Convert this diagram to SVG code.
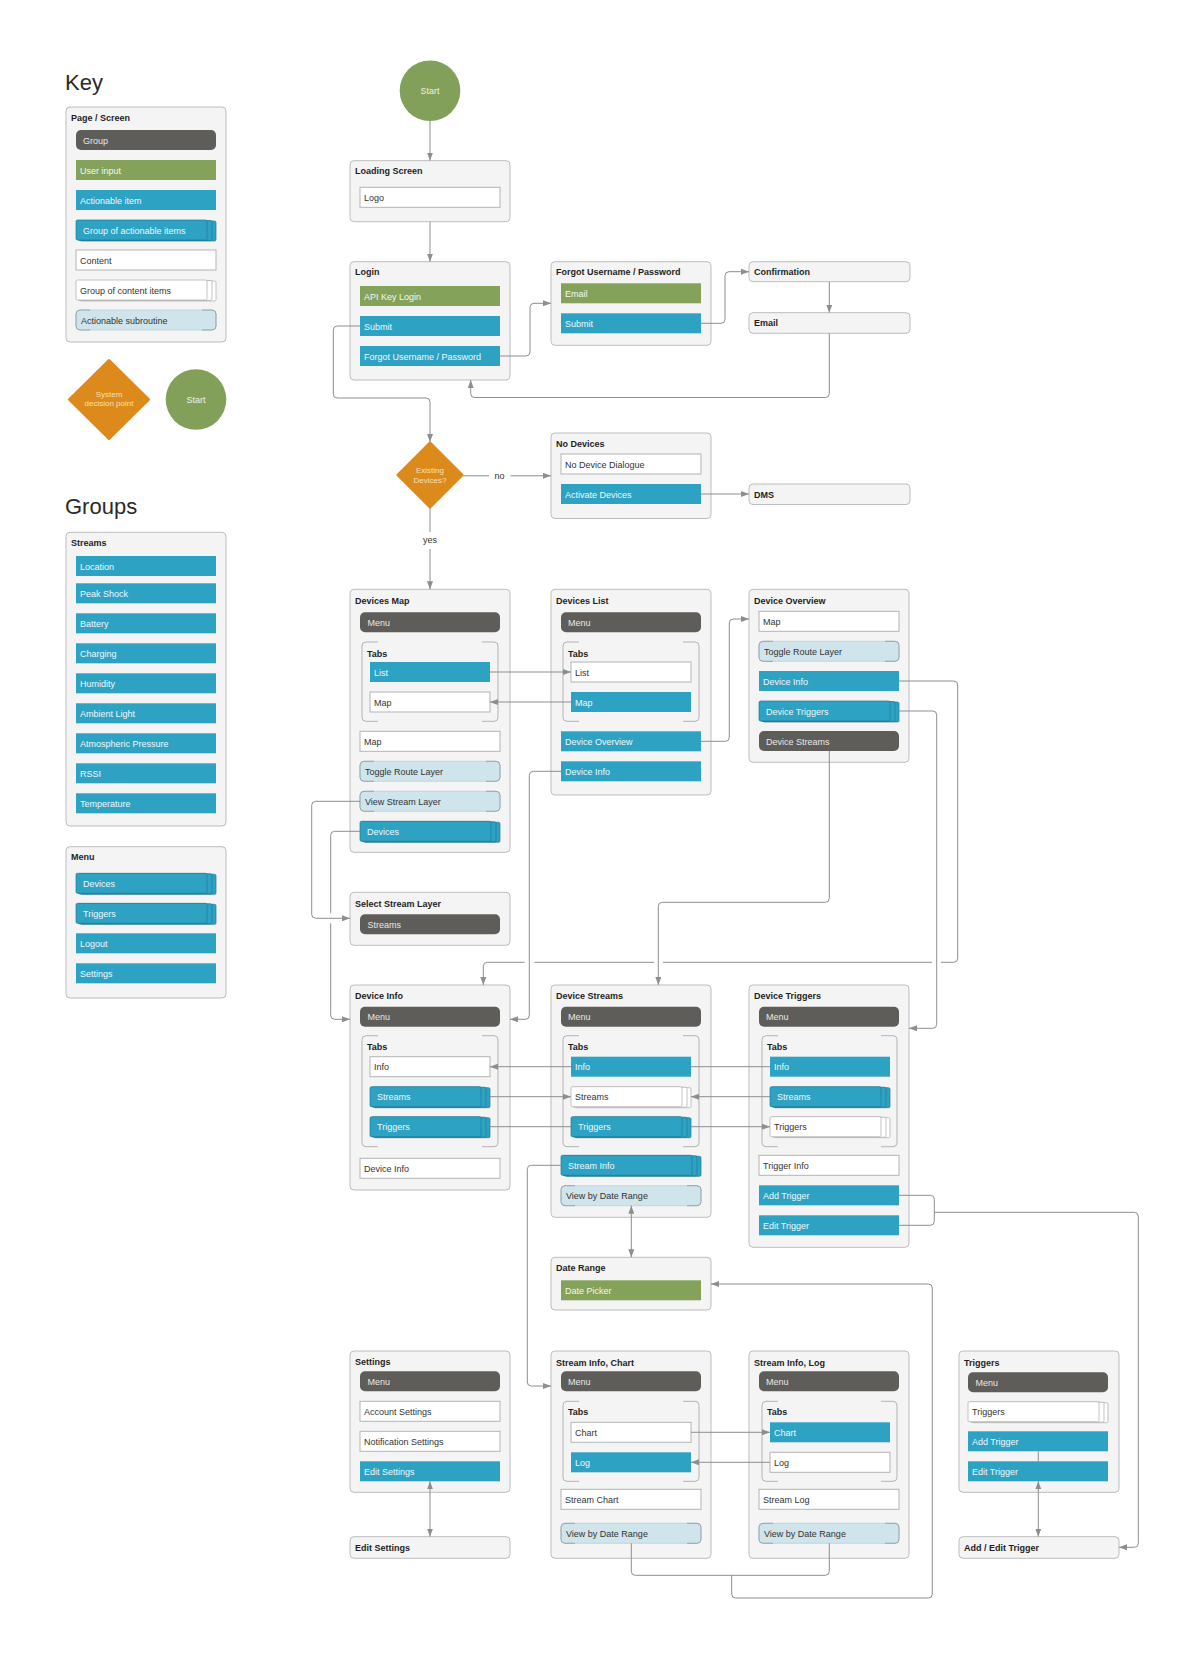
<svg xmlns="http://www.w3.org/2000/svg" xmlns:xlink="http://www.w3.org/1999/xlink" width="1199" height="1659" viewBox="0 0 1199 1659">
<style>
text{font-family:"Liberation Sans",Arial,Helvetica,sans-serif}
.t{font-size:9px;font-weight:bold;fill:#1e1e1e}
.w{font-size:9px;fill:#f0f8fb}
.gt{font-size:9px;fill:#e8e8e6}
.d{font-size:9px;fill:#333}
.h{font-size:22px;fill:#2a2a2a}
.m{text-anchor:middle}
.pg{fill:#f4f4f4;stroke:#bdbdbd;stroke-width:1}
.grp{fill:#5f5d59}
.inp{fill:#85a25a}
.act{fill:#2da2c3}
.cnt{fill:#fff;stroke:#b3b3b3;stroke-width:1}
.sub{fill:#cfe4eb;stroke:#bcd0d7;stroke-width:.8}
.brk{fill:none;stroke:#8fa2a9;stroke-width:.9}
.tabs{fill:none;stroke:#b3b3b3;stroke-width:1}
.ga rect{fill:#2da2c3;stroke:#1f7893;stroke-width:.7}
.gc rect{fill:#fff;stroke:#a9a9a9;stroke-width:.7}
.c{fill:none;stroke:#8e8e8e;stroke-width:1}
.ca{marker-end:url(#ah)}
.cb{marker-start:url(#ahs);marker-end:url(#ah)}
</style>
<defs>
<marker id="ah" markerUnits="userSpaceOnUse" markerWidth="8" markerHeight="6" refX="8" refY="3" orient="auto"><path d="M0,0 L8,3 L0,6 z" fill="#8e8e8e"/></marker>
<marker id="ahs" markerUnits="userSpaceOnUse" markerWidth="8" markerHeight="6" refX="8" refY="3" orient="auto-start-reverse"><path d="M0,0 L8,3 L0,6 z" fill="#8e8e8e"/></marker>
<g id="sub140"><rect class="sub" x="0" y="0" width="140" height="20" rx="4"/><path class="brk" d="M14 0 H4 Q0 0 0 4 V16 Q0 20 4 20 H14 M126 0 H136 Q140 0 140 4 V16 Q140 20 136 20 H126"/></g>
<g id="ga140" class="ga"><rect x="4" y="1" width="136" height="20" rx="1.5"/><rect x="2" y=".5" width="134" height="20" rx="1.5"/><rect x="0" y="0" width="131" height="20" rx="1.5"/></g>
<g id="ga120" class="ga"><rect x="4" y="1" width="116" height="20" rx="1.5"/><rect x="2" y=".5" width="114" height="20" rx="1.5"/><rect x="0" y="0" width="111" height="20" rx="1.5"/></g>
<g id="gc140" class="gc"><rect x="4" y="1" width="136" height="20" rx="1.5"/><rect x="2" y=".5" width="134" height="20" rx="1.5"/><rect x="0" y="0" width="131" height="20" rx="1.5"/></g>
<g id="gc120" class="gc"><rect x="4" y="1" width="116" height="20" rx="1.5"/><rect x="2" y=".5" width="114" height="20" rx="1.5"/><rect x="0" y="0" width="111" height="20" rx="1.5"/></g>
</defs>
<rect x="0" y="0" width="1199" height="1659" fill="#fff"/>

<g id="key">
<text class="h" x="65" y="89.5">Key</text>
<rect class="pg" x="66" y="107" width="160" height="235" rx="4"/>
<text class="t" x="71" y="120.5">Page / Screen</text>
<rect class="grp" x="76" y="130" width="140" height="20" rx="5"/><text class="gt" x="83" y="143.5">Group</text>
<rect class="inp" x="76" y="160" width="140" height="20"/><text class="w" x="80" y="173.5">User input</text>
<rect class="act" x="76" y="190" width="140" height="20"/><text class="w" x="80" y="203.5">Actionable item</text>
<use xlink:href="#ga140" x="76" y="220"/><text class="w" x="83" y="233.5">Group of actionable items</text>
<rect class="cnt" x="76" y="250" width="140" height="20"/><text class="d" x="80" y="263.5">Content</text>
<use xlink:href="#gc140" x="76" y="280"/><text class="d" x="80" y="293.5">Group of content items</text>
<use xlink:href="#sub140" x="76" y="310"/><text class="d" x="81" y="323.5">Actionable subroutine</text>
</g>
<g id="key-decision">
<polygon points="109,360.5 148.5,399.5 109,438.5 69.5,399.5" fill="#dc8a1c" stroke="#dc8a1c" stroke-width="3" stroke-linejoin="round"/>
<text class="m" x="109" y="396.5" font-size="8" fill="#f8e0b4">System</text>
<text class="m" x="109" y="406" font-size="8" fill="#f8e0b4">decision point</text>
</g>
<g id="key-start">
<circle cx="196" cy="399.5" r="30.3" fill="#82a05a"/>
<text class="m" x="196" y="402.5" font-size="9" fill="#eef3e4">Start</text>
</g>

<g id="groups">
<text class="h" x="65" y="513.5">Groups</text>
</g>
<g id="grp-streams">
<rect class="pg" x="66" y="532.3" width="160" height="293.7" rx="4"/>
<text class="t" x="71" y="545.5">Streams</text>
<rect class="act" x="76" y="556" width="140" height="20"/><text class="w" x="80" y="569.5">Location</text>
<rect class="act" x="76" y="583.3" width="140" height="20"/><text class="w" x="80" y="596.8">Peak Shock</text>
<rect class="act" x="76" y="613.3" width="140" height="20"/><text class="w" x="80" y="626.8">Battery</text>
<rect class="act" x="76" y="643.3" width="140" height="20"/><text class="w" x="80" y="656.8">Charging</text>
<rect class="act" x="76" y="673.3" width="140" height="20"/><text class="w" x="80" y="686.8">Humidity</text>
<rect class="act" x="76" y="703.3" width="140" height="20"/><text class="w" x="80" y="716.8">Ambient Light</text>
<rect class="act" x="76" y="733.3" width="140" height="20"/><text class="w" x="80" y="746.8">Atmospheric Pressure</text>
<rect class="act" x="76" y="763.3" width="140" height="20"/><text class="w" x="80" y="776.8">RSSI</text>
<rect class="act" x="76" y="793.3" width="140" height="20"/><text class="w" x="80" y="806.8">Temperature</text>
</g>
<g id="grp-menu">
<rect class="pg" x="66" y="846.7" width="160" height="151.3" rx="4"/>
<text class="t" x="71" y="860">Menu</text>
<use xlink:href="#ga140" x="76" y="873.3"/><text class="w" x="83" y="886.8">Devices</text>
<use xlink:href="#ga140" x="76" y="903.3"/><text class="w" x="83" y="916.8">Triggers</text>
<rect class="act" x="76" y="933.3" width="140" height="20"/><text class="w" x="80" y="946.8">Logout</text>
<rect class="act" x="76" y="963.3" width="140" height="20"/><text class="w" x="80" y="976.8">Settings</text>
</g>

<g id="start">
<circle cx="430" cy="90.7" r="30.3" fill="#82a05a"/>
<text class="m" x="430" y="93.7" font-size="9" fill="#eef3e4">Start</text>
</g>
<g id="loading">
<rect class="pg" x="350" y="160.7" width="160" height="61" rx="4"/>
<text class="t" x="355" y="174.3">Loading Screen</text>
<rect class="cnt" x="360" y="187.3" width="140" height="20"/><text class="d" x="364" y="200.8">Logo</text>
</g>
<g id="login">
<rect class="pg" x="350" y="261.7" width="160" height="118.3" rx="4"/>
<text class="t" x="355" y="275">Login</text>
<rect class="inp" x="360" y="286" width="140" height="20"/><text class="w" x="364" y="299.5">API Key Login</text>
<rect class="act" x="360" y="316" width="140" height="20"/><text class="w" x="364" y="329.5">Submit</text>
<rect class="act" x="360" y="346" width="140" height="20"/><text class="w" x="364" y="359.5">Forgot Username / Password</text>
</g>
<g id="forgot">
<rect class="pg" x="551" y="261.7" width="160" height="83.6" rx="4"/>
<text class="t" x="556" y="275">Forgot Username / Password</text>
<rect class="inp" x="561" y="283.3" width="140" height="20"/><text class="w" x="565" y="296.8">Email</text>
<rect class="act" x="561" y="313.3" width="140" height="20"/><text class="w" x="565" y="326.8">Submit</text>
</g>
<g id="confirmation">
<rect class="pg" x="749" y="261.7" width="161" height="20" rx="4"/>
<text class="t" x="754" y="275">Confirmation</text>
</g>
<g id="email">
<rect class="pg" x="749" y="312.7" width="161" height="20.6" rx="4"/>
<text class="t" x="754" y="326.3">Email</text>
</g>
<g id="existing-devices">
<polygon points="430,443 462,475 430,507 398,475" fill="#dc8a1c" stroke="#dc8a1c" stroke-width="3" stroke-linejoin="round"/>
<text class="m" x="430" y="473" font-size="8" fill="#f8e0b4">Existing</text>
<text class="m" x="430" y="482.5" font-size="8" fill="#f8e0b4">Devices?</text>
</g>
<g id="no-devices">
<rect class="pg" x="551" y="433" width="160" height="85.5" rx="4"/>
<text class="t" x="556" y="446.5">No Devices</text>
<rect class="cnt" x="561" y="454" width="140" height="20"/><text class="d" x="565" y="467.5">No Device Dialogue</text>
<rect class="act" x="561" y="484" width="140" height="20"/><text class="w" x="565" y="497.5">Activate Devices</text>
</g>
<g id="dms">
<rect class="pg" x="749" y="484" width="161" height="20.5" rx="4"/>
<text class="t" x="754" y="497.5">DMS</text>
</g>

<g id="devices-map">
<rect class="pg" x="350" y="589.3" width="160" height="263" rx="4"/>
<text class="t" x="355" y="603.5">Devices Map</text>
<rect class="grp" x="360" y="612.3" width="140" height="20" rx="5"/><text class="gt" x="367.5" y="625.8">Menu</text>
<path class="tabs" d="M378 642 H366 Q362 642 362 646 V717.3 Q362 721.3 366 721.3 H378 M482 642 H494 Q498 642 498 646 V717.3 Q498 721.3 494 721.3 H482"/>
<text class="t" x="367" y="656.5">Tabs</text>
<rect class="act" x="370" y="662" width="120" height="20"/><text class="w" x="374" y="675.5">List</text>
<rect class="cnt" x="370" y="692" width="120" height="20"/><text class="d" x="374" y="705.5">Map</text>
<rect class="cnt" x="360" y="731.3" width="140" height="20"/><text class="d" x="364" y="744.8">Map</text>
<use xlink:href="#sub140" x="360" y="761.3"/><text class="d" x="365" y="774.8">Toggle Route Layer</text>
<use xlink:href="#sub140" x="360" y="791.3"/><text class="d" x="365" y="804.8">View Stream Layer</text>
<use xlink:href="#ga140" x="360" y="821.3"/><text class="w" x="367" y="834.8">Devices</text>
</g>
<g id="devices-list">
<rect class="pg" x="551" y="589.3" width="160" height="205.7" rx="4"/>
<text class="t" x="556" y="603.5">Devices List</text>
<rect class="grp" x="561" y="612.3" width="140" height="20" rx="5"/><text class="gt" x="568" y="625.8">Menu</text>
<path class="tabs" d="M579 642 H567 Q563 642 563 646 V717.3 Q563 721.3 567 721.3 H579 M683 642 H695 Q699 642 699 646 V717.3 Q699 721.3 695 721.3 H683"/>
<text class="t" x="568" y="656.5">Tabs</text>
<rect class="cnt" x="571" y="662" width="120" height="20"/><text class="d" x="575" y="675.5">List</text>
<rect class="act" x="571" y="692" width="120" height="20"/><text class="w" x="575" y="705.5">Map</text>
<rect class="act" x="561" y="731.3" width="140" height="20"/><text class="w" x="565" y="744.8">Device Overview</text>
<rect class="act" x="561" y="761.3" width="140" height="20"/><text class="w" x="565" y="774.8">Device Info</text>
</g>
<g id="device-overview">
<rect class="pg" x="749" y="589.3" width="160" height="173" rx="4"/>
<text class="t" x="754" y="603.5">Device Overview</text>
<rect class="cnt" x="759" y="611.3" width="140" height="20"/><text class="d" x="763" y="624.8">Map</text>
<use xlink:href="#sub140" x="759" y="641.3"/><text class="d" x="764" y="654.8">Toggle Route Layer</text>
<rect class="act" x="759" y="671" width="140" height="20"/><text class="w" x="763" y="684.5">Device Info</text>
<use xlink:href="#ga140" x="759" y="701"/><text class="w" x="766" y="714.5">Device Triggers</text>
<rect class="grp" x="759" y="731" width="140" height="20" rx="5"/><text class="gt" x="766" y="744.5">Device Streams</text>
</g>
<g id="select-stream-layer">
<rect class="pg" x="350" y="892.3" width="160" height="53" rx="4"/>
<text class="t" x="355" y="906.5">Select Stream Layer</text>
<rect class="grp" x="360" y="914.3" width="140" height="20" rx="5"/><text class="gt" x="367.5" y="927.8">Streams</text>
</g>

<g id="device-info">
<rect class="pg" x="350" y="985" width="160" height="205" rx="4"/>
<text class="t" x="355" y="998.5">Device Info</text>
<rect class="grp" x="360" y="1006.7" width="140" height="20" rx="5"/><text class="gt" x="367.5" y="1020.2">Menu</text>
<path class="tabs" d="M378 1035.7 H366 Q362 1035.7 362 1039.7 V1142.7 Q362 1146.7 366 1146.7 H378 M482 1035.7 H494 Q498 1035.7 498 1039.7 V1142.7 Q498 1146.7 494 1146.7 H482"/>
<text class="t" x="367" y="1049.5">Tabs</text>
<rect class="cnt" x="370" y="1056.7" width="120" height="20"/><text class="d" x="374" y="1070.2">Info</text>
<use xlink:href="#ga120" x="370" y="1086.7"/><text class="w" x="377" y="1100.2">Streams</text>
<use xlink:href="#ga120" x="370" y="1116.7"/><text class="w" x="377" y="1130.2">Triggers</text>
<rect class="cnt" x="360" y="1158.3" width="140" height="20"/><text class="d" x="364" y="1171.8">Device Info</text>
</g>
<g id="device-streams">
<rect class="pg" x="551" y="985" width="160" height="232.3" rx="4"/>
<text class="t" x="556" y="998.5">Device Streams</text>
<rect class="grp" x="561" y="1006.7" width="140" height="20" rx="5"/><text class="gt" x="568" y="1020.2">Menu</text>
<path class="tabs" d="M579 1035.7 H567 Q563 1035.7 563 1039.7 V1142.7 Q563 1146.7 567 1146.7 H579 M683 1035.7 H695 Q699 1035.7 699 1039.7 V1142.7 Q699 1146.7 695 1146.7 H683"/>
<text class="t" x="568" y="1049.5">Tabs</text>
<rect class="act" x="571" y="1056.7" width="120" height="20"/><text class="w" x="575" y="1070.2">Info</text>
<use xlink:href="#gc120" x="571" y="1086.7"/><text class="d" x="575" y="1100.2">Streams</text>
<use xlink:href="#ga120" x="571" y="1116.7"/><text class="w" x="578" y="1130.2">Triggers</text>
<use xlink:href="#ga140" x="561" y="1155.3"/><text class="w" x="568" y="1168.8">Stream Info</text>
<use xlink:href="#sub140" x="561" y="1185.7"/><text class="d" x="566" y="1199.2">View by Date Range</text>
</g>
<g id="device-triggers">
<rect class="pg" x="749" y="985" width="160" height="262.3" rx="4"/>
<text class="t" x="754" y="998.5">Device Triggers</text>
<rect class="grp" x="759" y="1006.7" width="140" height="20" rx="5"/><text class="gt" x="766" y="1020.2">Menu</text>
<path class="tabs" d="M778 1035.7 H766 Q762 1035.7 762 1039.7 V1142.7 Q762 1146.7 766 1146.7 H778 M881 1035.7 H893 Q897 1035.7 897 1039.7 V1142.7 Q897 1146.7 893 1146.7 H881"/>
<text class="t" x="767" y="1049.5">Tabs</text>
<rect class="act" x="770" y="1056.7" width="120" height="20"/><text class="w" x="774" y="1070.2">Info</text>
<use xlink:href="#ga120" x="770" y="1086.7"/><text class="w" x="777" y="1100.2">Streams</text>
<use xlink:href="#gc120" x="770" y="1116.7"/><text class="d" x="774" y="1130.2">Triggers</text>
<rect class="cnt" x="759" y="1155.3" width="140" height="20"/><text class="d" x="763" y="1168.8">Trigger Info</text>
<rect class="act" x="759" y="1185.3" width="140" height="20"/><text class="w" x="763" y="1198.8">Add Trigger</text>
<rect class="act" x="759" y="1215.3" width="140" height="20"/><text class="w" x="763" y="1228.8">Edit Trigger</text>
</g>
<g id="date-range">
<rect class="pg" x="551" y="1257.3" width="160" height="52.7" rx="4"/>
<text class="t" x="556" y="1271">Date Range</text>
<rect class="inp" x="561" y="1280.3" width="140" height="20"/><text class="w" x="565" y="1293.8">Date Picker</text>
</g>

<g id="settings">
<rect class="pg" x="350" y="1351" width="160" height="141.3" rx="4"/>
<text class="t" x="355" y="1364.5">Settings</text>
<rect class="grp" x="360" y="1371.3" width="140" height="20" rx="5"/><text class="gt" x="367.5" y="1384.8">Menu</text>
<rect class="cnt" x="360" y="1401.3" width="140" height="20"/><text class="d" x="364" y="1414.8">Account Settings</text>
<rect class="cnt" x="360" y="1431.3" width="140" height="20"/><text class="d" x="364" y="1444.8">Notification Settings</text>
<rect class="act" x="360" y="1461.3" width="140" height="20"/><text class="w" x="364" y="1474.8">Edit Settings</text>
</g>
<g id="edit-settings">
<rect class="pg" x="350" y="1536.7" width="160" height="21.6" rx="4"/>
<text class="t" x="355" y="1550.7">Edit Settings</text>
</g>
<g id="stream-info-chart">
<rect class="pg" x="551" y="1351" width="160" height="207.3" rx="4"/>
<text class="t" x="556" y="1365.5">Stream Info, Chart</text>
<rect class="grp" x="561" y="1371.3" width="140" height="20" rx="5"/><text class="gt" x="568" y="1384.8">Menu</text>
<path class="tabs" d="M579 1401.3 H567 Q563 1401.3 563 1405.3 V1477.3 Q563 1481.3 567 1481.3 H579 M683 1401.3 H695 Q699 1401.3 699 1405.3 V1477.3 Q699 1481.3 695 1481.3 H683"/>
<text class="t" x="568" y="1415">Tabs</text>
<rect class="cnt" x="571" y="1422.3" width="120" height="20"/><text class="d" x="575" y="1435.8">Chart</text>
<rect class="act" x="571" y="1452.3" width="120" height="20"/><text class="w" x="575" y="1465.8">Log</text>
<rect class="cnt" x="561" y="1489.3" width="140" height="20"/><text class="d" x="565" y="1502.8">Stream Chart</text>
<use xlink:href="#sub140" x="561" y="1523.3"/><text class="d" x="566" y="1536.8">View by Date Range</text>
</g>
<g id="stream-info-log">
<rect class="pg" x="749" y="1351" width="160" height="207.3" rx="4"/>
<text class="t" x="754" y="1365.5">Stream Info, Log</text>
<rect class="grp" x="759" y="1371.3" width="140" height="20" rx="5"/><text class="gt" x="766" y="1384.8">Menu</text>
<path class="tabs" d="M778 1401.3 H766 Q762 1401.3 762 1405.3 V1477.3 Q762 1481.3 766 1481.3 H778 M881 1401.3 H893 Q897 1401.3 897 1405.3 V1477.3 Q897 1481.3 893 1481.3 H881"/>
<text class="t" x="767" y="1415">Tabs</text>
<rect class="act" x="770" y="1422.3" width="120" height="20"/><text class="w" x="774" y="1435.8">Chart</text>
<rect class="cnt" x="770" y="1452.3" width="120" height="20"/><text class="d" x="774" y="1465.8">Log</text>
<rect class="cnt" x="759" y="1489.3" width="140" height="20"/><text class="d" x="763" y="1502.8">Stream Log</text>
<use xlink:href="#sub140" x="759" y="1523.3"/><text class="d" x="764" y="1536.8">View by Date Range</text>
</g>
<g id="triggers">
<rect class="pg" x="959" y="1351" width="160" height="141.3" rx="4"/>
<text class="t" x="964" y="1365.5">Triggers</text>
<rect class="grp" x="968" y="1372.3" width="140" height="20" rx="5"/><text class="gt" x="975.5" y="1385.8">Menu</text>
<use xlink:href="#gc140" x="968" y="1401.7"/><text class="d" x="972" y="1415.2">Triggers</text>
<rect class="act" x="968" y="1431.3" width="140" height="20"/><text class="w" x="972" y="1444.8">Add Trigger</text>
<rect class="act" x="968" y="1461.3" width="140" height="20"/><text class="w" x="972" y="1474.8">Edit Trigger</text>
</g>
<g id="add-edit-trigger">
<rect class="pg" x="959" y="1536.7" width="160" height="21.6" rx="4"/>
<text class="t" x="964" y="1550.7">Add / Edit Trigger</text>
</g>

<g id="connectors">
<path class="c ca" d="M430 121 V160.7"/>
<path class="c ca" d="M430 221.7 V261.7"/>
<path class="c ca" d="M360 326 H337.3 Q333.3 326 333.3 330 V394 Q333.3 398 337.3 398 H426 Q430 398 430 402 V442"/>
<path class="c ca" d="M500 356 H526 Q530 356 530 352 V307.3 Q530 303.3 534 303.3 H551"/>
<path class="c ca" d="M701 323.3 H721 Q725 323.3 725 319.3 V275.7 Q725 271.7 729 271.7 H749"/>
<path class="c ca" d="M829.3 281.7 V312.7"/>
<path class="c ca" d="M829.3 333.3 V393.5 Q829.3 397.5 825.3 397.5 H474.7 Q470.7 397.5 470.7 393.5 V380"/>
<path class="c" d="M463 475.8 H489"/>
<text class="d m" x="499.5" y="479">no</text>
<path class="c ca" d="M510.5 475.8 H551"/>
<path class="c" d="M430 508 V532"/>
<text class="d m" x="430" y="543">yes</text>
<path class="c ca" d="M430 549 V589.3"/>
<path class="c ca" d="M701 494 H749"/>
<path class="c ca" d="M490 672 H571"/>
<path class="c ca" d="M571 702 H490"/>
<path class="c ca" d="M701 741.3 H725.3 Q729.3 741.3 729.3 737.3 V623 Q729.3 619 733.3 619 H749"/>
<path class="c ca" d="M561 771.3 H533.3 Q529.3 771.3 529.3 775.3 V1015.3 Q529.3 1019.3 525.3 1019.3 H510"/>
<path class="c ca" d="M360 801.3 H315.7 Q311.7 801.3 311.7 805.3 V914.3 Q311.7 918.3 315.7 918.3 H350"/>
<path class="c ca" d="M360 831.3 H334.7 Q330.7 831.3 330.7 835.3 V913.3 M330.7 923.3 V1015.3 Q330.7 1019.3 334.7 1019.3 H350"/>
<path class="c ca" d="M899 681 H953.7 Q957.7 681 957.7 685 V958.3 Q957.7 962.3 953.7 962.3 H941 M932 962.3 H663 M654 962.3 H534.5 M524.5 962.3 H487.3 Q483.3 962.3 483.3 966.3 V985"/>
<path class="c ca" d="M829.3 751 V898.3 Q829.3 902.3 825.3 902.3 H662.3 Q658.3 902.3 658.3 906.3 V985"/>
<path class="c ca" d="M899 711 H932.7 Q936.7 711 936.7 715 V1024.3 Q936.7 1028.3 932.7 1028.3 H909"/>
<path class="c" d="M770 1066.7 H691"/>
<path class="c ca" d="M571 1066.7 H490"/>
<path class="c ca" d="M490 1096.7 H571"/>
<path class="c ca" d="M770 1096.7 H691"/>
<path class="c" d="M490 1126.7 H571"/>
<path class="c ca" d="M691 1126.7 H770"/>
<path class="c ca" d="M561 1165.3 H531.3 Q527.3 1165.3 527.3 1169.3 V1382 Q527.3 1386 531.3 1386 H551"/>
<path class="c cb" d="M631.3 1205.7 V1257.3"/>
<path class="c" d="M631.3 1543.3 V1571.3 Q631.3 1575.3 635.3 1575.3 H825.3 Q829.3 1575.3 829.3 1571.3 V1543.3"/>
<path class="c ca" d="M731.7 1575.3 V1594 Q731.7 1598 735.7 1598 H928.3 Q932.3 1598 932.3 1594 V1288 Q932.3 1284 928.3 1284 H711"/>
<path class="c" d="M899 1195.3 H930.3 Q934.3 1195.3 934.3 1199.3 V1221.3 Q934.3 1225.3 930.3 1225.3 H899"/>
<path class="c ca" d="M934.3 1212.3 H1134.3 Q1138.3 1212.3 1138.3 1216.3 V1543.3 Q1138.3 1547.3 1134.3 1547.3 H1119"/>
<path class="c cb" d="M430 1481.3 V1536.7"/>
<path class="c ca" d="M691 1432.3 H770"/>
<path class="c ca" d="M770 1462.3 H691"/>
<path class="c" d="M1038.3 1451.3 V1461.3"/>
<path class="c cb" d="M1038.3 1481.3 V1536.7"/>
</g>
</svg>
